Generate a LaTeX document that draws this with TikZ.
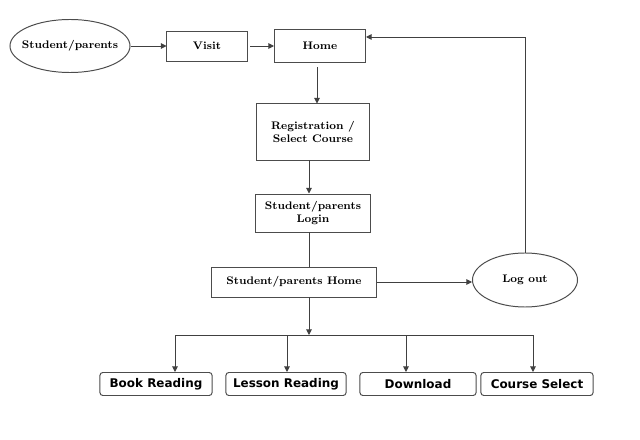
\documentclass[tikz,border=0pt]{standalone}
\usepackage{fontspec}
\newfontfamily\boxfont{DejaVu Sans}
\usepackage{tikz}
\usetikzlibrary{positioning, arrows.meta, shapes.geometric}

\tikzset{
  page box/.style={draw=black!70, line width=0.7pt, align=center, inner sep=1pt,
    font=\fontsize{7.8}{9.2}\selectfont\bfseries},
  page oval/.style={page box, ellipse, inner xsep=-8pt, inner ysep=-2pt},
  menu box/.style={draw=black!70, line width=0.7pt, rounded corners=2pt, inner sep=1pt,
    minimum width=2.8cm, minimum height=0.575cm, font=\boxfont\fontsize{8.5}{10}\selectfont\bfseries},
  arr/.style={draw=black!75, line width=0.7pt, -{Triangle[length=4pt,width=4pt]}},
  ln/.style={draw=black!75, line width=0.7pt}
}

\begin{document}
\begin{tikzpicture}[x=0.025cm,y=-0.025cm]
\useasboundingbox (0,0) rectangle (640,440);
% top row
\node[page oval, minimum width=3cm, minimum height=1.325cm] (sp) at (70,46) {Student/parents};
\node[page box, minimum width=2cm, minimum height=0.75cm] (visit) at (207,46) {Visit};
\node[page box, minimum width=2.275cm, minimum height=0.825cm] (home) at (320,46) {Home};
% middle column
\node[page box, minimum width=2.825cm, minimum height=1.4cm] (reg) at (313,132) {Registration /\\Select Course};
\node[page box, minimum width=2.85cm, minimum height=0.95cm] (login) at (313,213) {Student/parents\\Login};
\node[page box, minimum width=4.125cm, minimum height=0.75cm] (sphome) at (294,282) {Student/parents Home};
\node[page oval, minimum width=2.625cm, minimum height=1.35cm] (logout) at (525,280) {Log out};
% bottom menu
\node[menu box] (book) at (156,384) {Book Reading};
\node[menu box, minimum width=3cm] (lesson) at (286,384) {Lesson Reading};
\node[menu box, minimum width=2.9cm] (dl) at (418,384) {Download};
\node[menu box] (cs) at (537,384) {Course Select};

% draw arrows
\draw[arr] (sp.east) -- (visit.west);
\draw[arr, shorten <=2pt] (visit.east) -- (home.west);
\draw[arr, shorten <=3pt] (home.south -| 317,0) -- (reg.north -| 317,0);
\draw[arr] (reg.south -| 309,0) -- (login.north -| 309,0);
\draw[ln] (login.south -| 309,0) -- (sphome.north -| 309,0);
\draw[arr] (sphome.east) -- (sphome.east -| logout.west);
\draw[arr] (logout.north) |- ([yshift=0.225cm]home.east);
% bus line
\coordinate (busL) at (175,335);
\coordinate (busR) at (533,335);
\draw[arr] (sphome.south -| 309,0) -- (309,335);
\draw[ln] (busL) -- (busR);
\foreach \n/\x in {book/175,lesson/287,dl/406,cs/533}{
  \coordinate (b\n) at (\x,335);
  \draw[arr] (b\n) -- (b\n |- \n.north);
}
\end{tikzpicture}
\end{document}
